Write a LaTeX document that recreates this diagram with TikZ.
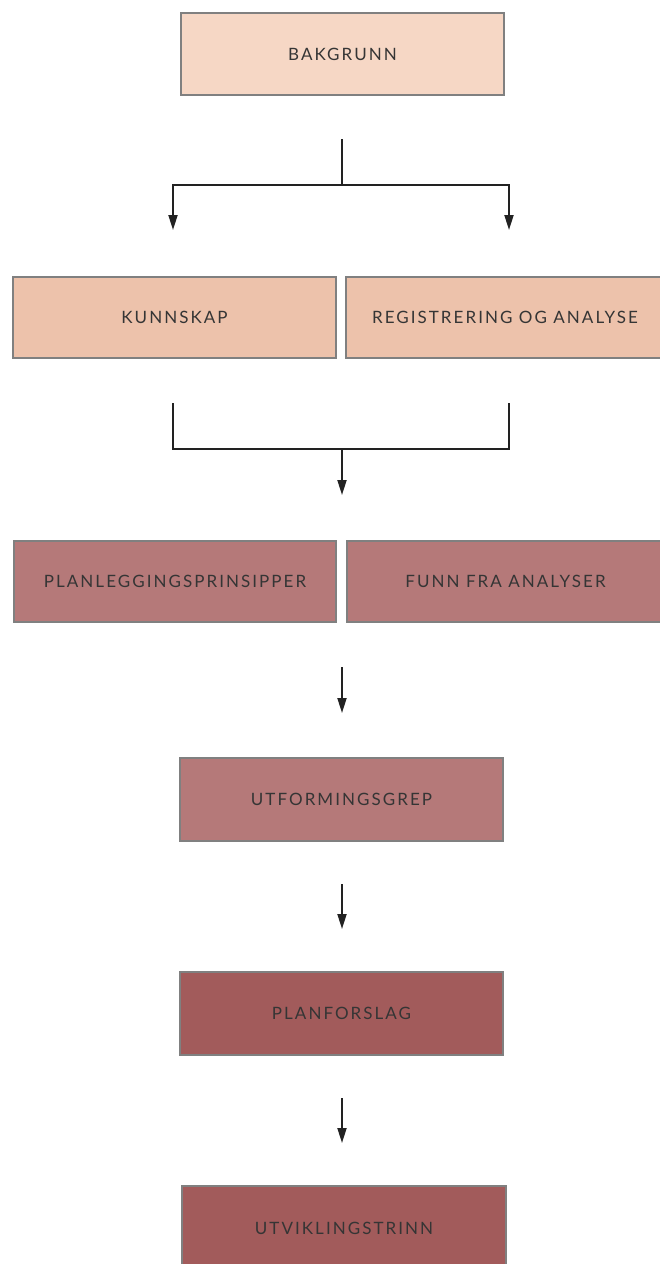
\documentclass[tikz,border=0pt]{standalone}
\usepackage{fontspec}
\setmainfont{Lato}[LetterSpace=12]
\usetikzlibrary{arrows.meta}
\definecolor{peachA}{HTML}{F6D7C5}
\definecolor{peachB}{HTML}{EDC2AB}
\definecolor{roseA}{HTML}{B57979}
\definecolor{roseB}{HTML}{A25B5B}
\definecolor{frameC}{HTML}{808080}
\definecolor{txtC}{HTML}{353535}
\definecolor{lineC}{HTML}{222222}
\tikzset{
  stepbox/.style={draw=frameC, line width=1.1pt, rectangle, inner sep=0pt,
    text=txtC, font=\fontsize{17}{20}\selectfont},
  conn/.style={draw=lineC, line width=1.9pt},
  arr/.style={conn, -{Triangle[length=15pt,width=9pt]}},
}
\begin{document}
\begin{tikzpicture}[x=1pt,y=-1pt]
\useasboundingbox (0,0) rectangle (660,1264);
\clip (0,0) rectangle (660,1264);
\fill[white] (0,0) rectangle (660,1264);
% boxes
\node[stepbox, fill=peachA, minimum width=323pt, minimum height=82pt] (bak) at (342.5,54) {BAKGRUNN};
\node[stepbox, fill=peachB, minimum width=323pt, minimum height=81pt] (kun) at (174.5,317.5) {KUNNSKAP};
\node[stepbox, fill=peachB, minimum width=318pt, minimum height=81pt] (reg) at (505,317.5) {REGISTRERING OG ANALYSE};
\node[stepbox, fill=roseA, minimum width=322pt, minimum height=81pt] (plan) at (175,581.5) {PLANLEGGINGSPRINSIPPER};
\node[stepbox, fill=roseA, minimum width=317pt, minimum height=81pt] (funn) at (505.5,581.5) {FUNN FRA ANALYSER};
\node[stepbox, fill=roseA, minimum width=323pt, minimum height=83pt] (utf) at (341.5,799.5) {UTFORMINGSGREP};
\node[stepbox, fill=roseB, minimum width=323pt, minimum height=83pt] (planf) at (341.5,1013.5) {PLANFORSLAG};
\node[stepbox, fill=roseB, minimum width=324pt, minimum height=84pt] (utv) at (344,1228) {UTVIKLINGSTRINN};
% connector points
\coordinate (s1) at (342,139);
\coordinate (j1) at (342,185);
\coordinate (l1) at (173,185);
\coordinate (r1) at (509,185);
\coordinate (lt) at (173,230);
\coordinate (rt) at (509,230);
\coordinate (l2) at (173,403);
\coordinate (lb) at (173,449);
\coordinate (r2) at (509,403);
\coordinate (rb) at (509,449);
\coordinate (j2) at (342,449);
\coordinate (t2) at (342,495);
\coordinate (a3) at (342,667);
\coordinate (b3) at (342,713);
\coordinate (a4) at (342,884);
\coordinate (b4) at (342,929);
\coordinate (a5) at (342,1098);
\coordinate (b5) at (342,1143);
% connectors
\draw[conn] (s1) -- (j1);
\draw[arr] (j1) -- (l1) -- (lt);
\draw[arr] (j1) -- (r1) -- (rt);
\draw[conn] (l2) -- (lb) -- (rb) -- (r2);
\draw[arr] (j2) -- (t2);
\draw[arr] (a3) -- (b3);
\draw[arr] (a4) -- (b4);
\draw[arr] (a5) -- (b5);
\end{tikzpicture}
\end{document}
